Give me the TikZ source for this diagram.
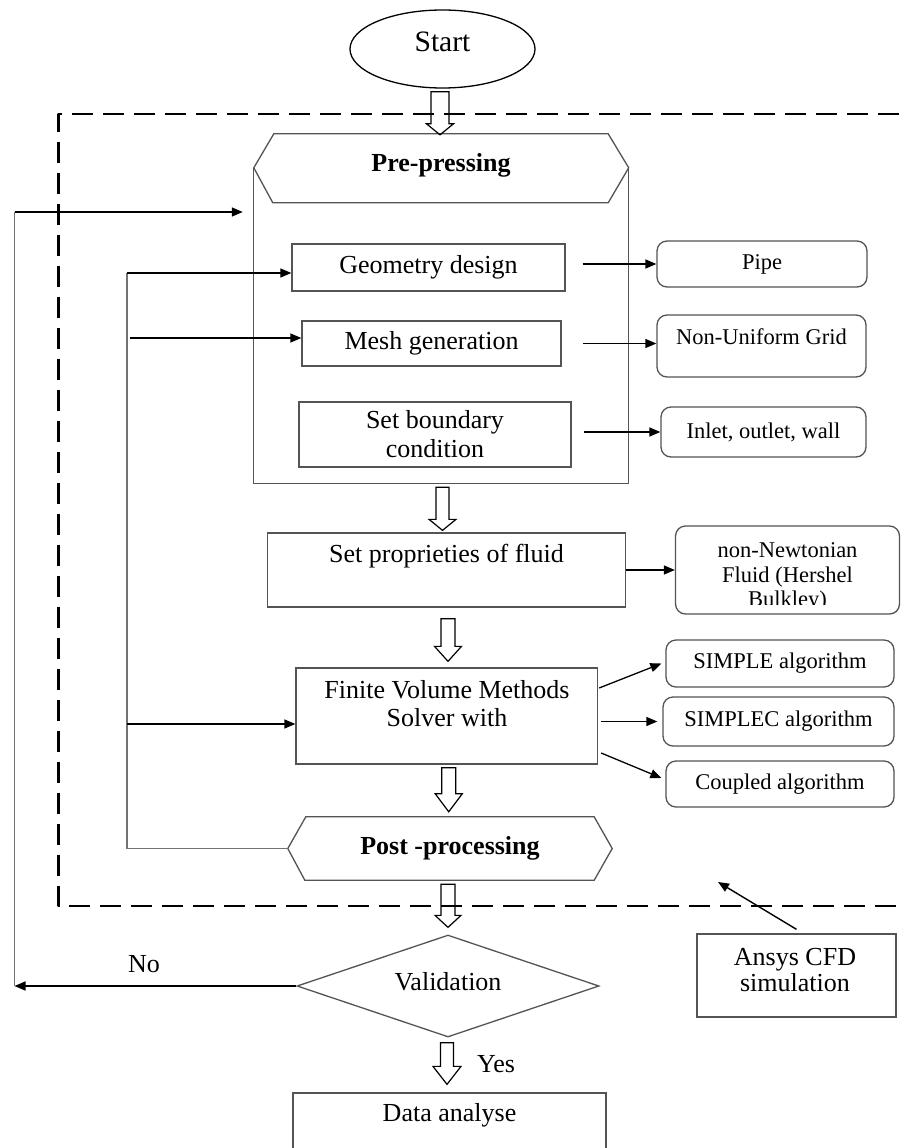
\documentclass[tikz,border=0pt]{standalone}
\usepackage{fontspec}
\setmainfont{Liberation Serif}
\usetikzlibrary{arrows.meta,calc,shapes.geometric}
\definecolor{boxc}{gray}{0.33}
\definecolor{fbc}{gray}{0.45}
\newcommand\harrow[5]{\draw[hollow] let \p1=#1, \p2=#2 in
  (\x1-#3,\y1) -- (\x1+#3,\y1) -- (\x1+#3,\y2+#5) -- (\x1+#4,\y2+#5) -- (\x1,\y2)
  -- (\x1-#4,\y2+#5) -- (\x1-#3,\y2+#5) -- cycle;}
\begin{document}
\begin{tikzpicture}[x=1pt,y=-1pt,
  box/.style={draw=boxc,line width=1.3pt,rectangle,inner sep=0pt},
  rbox/.style={box,rounded corners=10pt},
  T/.style={font=\fontsize{26}{29}\selectfont,align=center,inner sep=0pt},
  TB/.style={font=\fontsize{26}{29}\selectfont\bfseries,align=center,inner sep=0pt},
  S/.style={font=\fontsize{22.5}{24.5}\selectfont,align=center,inner sep=0pt},
  arr/.style={-{Triangle[length=11pt,width=9pt]},line width=1.4pt,draw=black},
  fb/.style={line width=1.4pt,draw=fbc},
  outline/.style={draw=boxc,line width=1.3pt,line join=miter},
  hollow/.style={draw=black,line width=1.2pt,line join=miter},
  frame/.style={draw=black,line width=2.6pt,dash pattern=on 21pt off 10pt,line join=round}
]
\useasboundingbox (0,0) rectangle (904,1148);
\clip (0,0) rectangle (904,1148);
\fill[white] (0,0) rectangle (904,1148);

% dashed frame (Ansys CFD region)
\draw[frame] (930,114) -- (58.5,114) -- (58.5,906) -- (930,906);

% Start
\node[ellipse,draw=black,line width=1.3pt,minimum width=185pt,minimum height=78pt,inner sep=0pt] (start) at (442.5,49) {};
\node[font=\fontsize{29.6}{32}\selectfont,inner sep=0pt] (startt) at (442.5,42) {Start};

% Pre-pressing container
\node[inner sep=0pt,minimum width=374.5pt,minimum height=349pt] (pre) at (441.25,308.5) {};
\draw[outline] ($(pre.north west)+(0,34)$) -- ($(pre.north west)+(20,0)$) -- ($(pre.north east)+(-20.5,0)$)
  -- ($(pre.north east)+(0,34)$) -- ($(pre.north east)+(-20.5,69)$) -- ($(pre.north west)+(19,69)$) -- cycle;
\draw[outline] ($(pre.north west)+(0,34)$) -- (pre.south west) -- (pre.south east) -- ($(pre.north east)+(0,34)$);
\node[TB] (pret) at (441,165) {Pre-pressing};

\node[box,T,minimum width=273pt,minimum height=47pt] (geo) at (428.5,267.5) {Geometry design};
\node[box,T,minimum width=259pt,minimum height=45pt] (mesh) at (431.5,343.5) {Mesh generation};
\node[box,T,minimum width=272pt,minimum height=65pt] (bnd) at (435,434.5) {Set boundary\\condition};

\node[rbox,S,minimum width=210pt,minimum height=46pt] (pipe) at (762,264) {Pipe};
\node[rbox,minimum width=209pt,minimum height=62pt] (grid) at (761.5,346) {};
\node[S] (gridt) at (761.5,337) {Non-Uniform Grid};
\node[rbox,S,minimum width=205pt,minimum height=50pt] (inlet) at (763.5,432) {Inlet, outlet, wall};

% fluid properties
\node[box,minimum width=358pt,minimum height=74pt] (setp) at (446.5,570) {};
\node[T] (setpt) at (446.5,556) {Set proprieties of fluid};
\node[rbox,minimum width=224pt,minimum height=88pt] (nonN) at (787.5,570) {};
\begin{scope}
\clip (676,520) rectangle (899,604);
\node[S] (nonNt) at (787.5,577) {non-Newtonian\\Fluid (Hershel\\Bulkley)};
\end{scope}

% solver
\node[box,minimum width=301.5pt,minimum height=96pt] (fv) at (446.75,716) {};
\node[T,font=\fontsize{26}{28}\selectfont] (fvt) at (447,704) {Finite Volume Methods\\Solver with};
\node[rbox,S,minimum width=228pt,minimum height=47pt] (simple) at (780,663.5) {SIMPLE algorithm};
\node[rbox,S,minimum width=231pt,minimum height=49pt] (simplec) at (778.5,721.5) {SIMPLEC algorithm};
\node[rbox,S,minimum width=228pt,minimum height=46pt] (coupled) at (780,784) {Coupled algorithm};

% post-processing
\node[TB,minimum width=324pt,minimum height=63pt] (post) at (450,848.5) {Post -processing};
\draw[outline] (post.west) -- ($(post.north west)+(18,0)$) -- ($(post.north east)+(-18,0)$) -- (post.east)
  -- ($(post.south east)+(-18,0)$) -- ($(post.south west)+(17,0)$) -- cycle;

% validation
\node[diamond,aspect=3,draw=boxc,line width=1.3pt,minimum width=302pt,minimum height=102pt,inner sep=0pt] (val) at (448,986) {};
\node[T] (valt) at (448,982) {Validation};
\node[T] (no) at (144,964) {No};
\node[T] (yes) at (496,1064) {Yes};

% data analyse
\node[box,minimum width=313pt,minimum height=66pt] (data) at (449.5,1126) {};
\node[T] (datat) at (449.5,1115.5) {Data analyse};

% Ansys label
\node[box,minimum width=199pt,minimum height=83pt] (ansys) at (796.5,975.5) {};
\node[T,font=\fontsize{26}{26}\selectfont] (ansyst) at (795,970) {Ansys CFD\\simulation};
\coordinate (atip) at (718,882);
\draw[arr] ($(ansys.north)+(0,-4)$) -- (atip);

% hollow flow arrows
\harrow{($(start.south)+(-2.5,3)$)}{($(pre.north)+(0,1)$)}{9pt}{13.5pt}{11pt}
\harrow{($(pre.south)+(1.25,4)$)}{($(setp.north)+(0,-2)$)}{6.5pt}{13.5pt}{11pt}
\harrow{($(setp.south)+(1.5,11)$)}{($(fv.north)+(0,-6)$)}{7pt}{13.5pt}{15pt}
\harrow{($(fv.south)+(2,3)$)}{($(post.north)+(0,-5)$)}{7pt}{13.5pt}{18pt}
\harrow{($(post.south)+(-2,4)$)}{($(val.north)+(0,-7)$)}{7pt}{13pt}{12pt}
\harrow{($(val.south)+(-1,5)$)}{($(data.north)+(0,-8)$)}{6.5pt}{14pt}{18pt}

% side arrows
\draw[arr] ($(pipe.west -| geo.east)+(17,0)$) -- (pipe.west);
\draw[arr] ($(mesh.east)+(21.5,0)$) -- (mesh.east -| grid.west);
\draw[arr] ($(inlet.west -| bnd.east)+(12,0)$) -- (inlet.west);
\draw[arr] (setp.east) -- (nonN.west);
\draw[arr,line width=1.3pt] ($(fv.east)+(1,-28)$) -- ($(simple.west)+(-4,0)$);
\draw[arr,line width=1.3pt] ($(simplec.west -| fv.east)+(3,0)$) -- ($(simplec.west)+(-5,0)$);
\draw[arr,line width=1.3pt] ($(fv.east)+(3,37)$) -- ($(coupled.west)+(-4,-6)$);

% inner feedback loop
\coordinate (lt) at (127,273);
\coordinate (lm) at (130,338);
\coordinate (lf) at (127,724);
\draw[fb] (post.west) -| (lt);
\draw[arr] (lt) -- (lt -| geo.west);
\draw[arr] (lm) -- (lm -| mesh.west);
\draw[arr] (lf) -- (lf -| fv.west);

% outer feedback loop (No)
\coordinate (ob) at (14.5,986);
\coordinate (ot) at (14.5,212);
\draw[arr] (val.west) -- (ob);
\draw[fb] (ob) -- (ot);
\draw[arr] (ot) -- ($(ot -| pre.west)+(-11,0)$);
\end{tikzpicture}
\end{document}
